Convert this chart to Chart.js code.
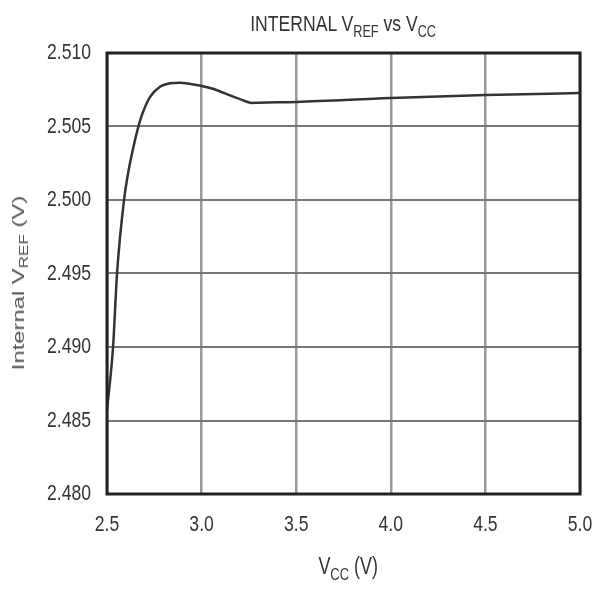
<!DOCTYPE html>
<html>
<head>
<meta charset="utf-8">
<script src="https://cdn.jsdelivr.net/npm/chart.js@4"></script>
<style>
  body { margin: 0; background: #fff; }
  #wrap { position: relative; width: 597px; height: 590px; }
  #vrefChart { position: absolute; left: 0; top: 0; }
  .lbl { position: absolute; color: #333; white-space: nowrap; font-family: "Liberation Sans", Arial, sans-serif; }
  .lbl sub { font-size: 0.72em; vertical-align: -0.35em; line-height: 0; }
  .lbl span { display: inline-block; }
  #title { top: 11px; left: 107px; width: 473px; text-align: center; font-size: 22px; }
  #title span { transform: scaleX(0.8); }
  #xTitle { top: 553px; left: 112px; width: 473px; text-align: center; font-size: 23px; }
  #xTitle span { transform: scaleX(0.78); }
  #yTitle { left: 19px; top: 283px; transform: translate(-50%, -50%) rotate(-90deg);
            font-size: 17px; color: #555; }
  #yTitle span { transform: scaleX(1.4); }
</style>
</head>
<body>
<div id="wrap">
  <canvas id="vrefChart" width="597" height="590"></canvas>
  <div id="title" class="lbl"><span>INTERNAL V<sub>REF</sub> vs V<sub>CC</sub></span></div>
  <div id="xTitle" class="lbl"><span>V<sub>CC</sub> (V)</span></div>
  <div id="yTitle" class="lbl"><span>Internal V<sub>REF</sub> (V)</span></div>
</div>
<script>
// 讀圖估計的數據點
const vccValues  = [2.500, 2.532, 2.553, 2.590, 2.614, 2.643, 2.664, 2.685, 2.727, 2.780, 2.833, 2.886, 2.974, 3.050, 3.124, 3.200, 3.266, 3.300, 3.504, 4.001, 4.503, 5.000];
const vrefValues = [2.4857, 2.4900, 2.4950, 2.5000, 2.5020, 2.5038, 2.5049, 2.5058, 2.5070, 2.5077, 2.50794, 2.50798, 2.50782, 2.50760, 2.50725, 2.50688, 2.50660, 2.50662, 2.50667, 2.50694, 2.50714, 2.50728];

const xTicks = [2.5, 3.0, 3.5, 4.0, 4.5, 5.0];
const yTicks = [2.480, 2.485, 2.490, 2.495, 2.500, 2.505, 2.510];

const tickFontCss = '22px "Liberation Sans", Arial, sans-serif';
const narrow = 0.8;

// 外框 + 窄體刻度文字
const frameAndTicks = {
    id: 'frameAndTicks',
    afterDatasetsDraw(chart) {
        const { ctx, chartArea: a } = chart;
        ctx.save();
        ctx.strokeStyle = '#222';
        ctx.lineWidth = 3;
        ctx.strokeRect(a.left, a.top, a.right - a.left, a.bottom - a.top);

        ctx.fillStyle = '#333';
        ctx.font = tickFontCss;

        const xs = chart.scales.x;
        ctx.textAlign = 'center';
        ctx.textBaseline = 'top';
        xTicks.forEach(v => {
            ctx.save();
            ctx.translate(xs.getPixelForValue(v), a.bottom + 20);
            ctx.scale(narrow, 1);
            ctx.fillText(v.toFixed(1), 0, 0);
            ctx.restore();
        });

        const ys = chart.scales.y;
        ctx.textAlign = 'right';
        ctx.textBaseline = 'middle';
        yTicks.forEach(v => {
            ctx.save();
            ctx.translate(a.left - 16, ys.getPixelForValue(v));
            ctx.scale(narrow, 1);
            ctx.fillText(v.toFixed(3), 0, 0);
            ctx.restore();
        });
        ctx.restore();
    }
};

const points = vccValues.map((v, i) => ({ x: v, y: vrefValues[i] }));

new Chart(document.getElementById('vrefChart'), {
    type: 'line',
    data: {
        datasets: [{
            data: points,
            borderColor: '#333',
            borderWidth: 2.5,
            pointRadius: 0,
            fill: false,
            cubicInterpolationMode: 'monotone'
        }]
    },
    options: {
        responsive: false,
        animation: false,
        devicePixelRatio: 1,
        layout: { padding: { top: 53, right: 17, left: 0, bottom: 0 } },
        plugins: { legend: { display: false }, tooltip: { enabled: false } },
        scales: {
            x: {
                type: 'linear',
                min: xTicks[0],
                max: xTicks[xTicks.length - 1],
                afterBuildTicks: s => { s.ticks = xTicks.map(v => ({ value: v })); },
                afterFit: s => { s.height = 96; },
                grid: { color: '#999', lineWidth: 2.5, drawTicks: false },
                border: { display: false },
                ticks: { display: false }
            },
            y: {
                min: yTicks[0],
                max: yTicks[yTicks.length - 1],
                afterBuildTicks: s => { s.ticks = yTicks.map(v => ({ value: v })); },
                afterFit: s => { s.width = 107; },
                grid: { color: '#777', lineWidth: 2, drawTicks: false },
                border: { display: false },
                ticks: { display: false }
            }
        }
    },
    plugins: [frameAndTicks]
});
</script>
</body>
</html>
